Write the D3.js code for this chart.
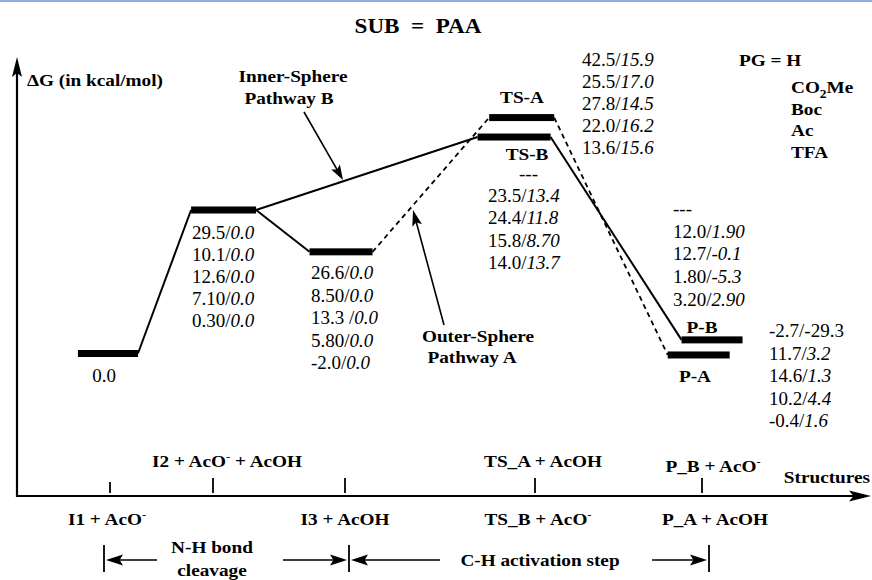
<!DOCTYPE html>
<html>
<head>
<meta charset="utf-8">
<title>Energy profile, SUB = PAA</title>
<style>
  html, body { margin: 0; padding: 0; background: #fff; }
  #svg { display: block; }
  text { font-family: "Liberation Serif", "Times New Roman", serif; white-space: pre; }
</style>
</head>
<body>
<svg id="svg" width="872" height="580"></svg>

<script src="https://d3js.org/d3.v7.min.js"></script>
<script>
// structures along the x axis
const stages = [0, 1, 2, 3, 4]
const stageTop = ['', 'I2 + AcO⁻ + AcOH', '', 'TS_A + AcOH', 'P_B + AcO⁻']
const stageBottom = ['I1 + AcO⁻', '', 'I3 + AcOH', 'TS_B + AcO⁻', 'P_A + AcOH']

// energy levels (schematic heights, not to scale)
const levelNames = ['I1', 'I2', 'I3', 'TS-A', 'TS-B', 'P-B', 'P-A']
const levelCoord = [-0.02, 1.08, 1.97, 2.93, 2.89, 4.06, 3.98]
const levelHeight = [0, 29.5, 20.9, 48.5, 44.5, 2.8, -0.3]

const solidPath = [['I1', 'I2'], ['I2', 'I3'], ['I2', 'TS-B'], ['TS-B', 'P-B']]
const dashedPath = [['I3', 'TS-A'], ['TS-A', 'P-A']]

// protecting groups and energies (gas / solvent)
const pgLabels = ['H', 'CO₂Me', 'Boc', 'Ac', 'TFA']
const energyI1 = ['0.0']
const energyI2 = [['29.5', '0.0'], ['10.1', '0.0'], ['12.6', '0.0'], ['7.10', '0.0'], ['0.30', '0.0']]
const energyI3 = [['26.6', '0.0'], ['8.50', '0.0'], ['13.3 ', '0.0'], ['5.80', '0.0'], ['-2.0', '0.0']]
const energyTSA = [['42.5', '15.9'], ['25.5', '17.0'], ['27.8', '14.5'], ['22.0', '16.2'], ['13.6', '15.6']]
const energyTSB = [null, ['23.5', '13.4'], ['24.4', '11.8'], ['15.8', '8.70'], ['14.0', '13.7']]
const energyPB = [null, ['12.0', '1.90'], ['12.7', '-0.1'], ['1.80', '-5.3'], ['3.20', '2.90']]
const energyPA = [['-2.7', '-29.3'], ['11.7', '3.2'], ['14.6', '1.3'], ['10.2', '4.4'], ['-0.4', '1.6']]

const svg = d3.select('#svg')
const xscale = d3.scaleLinear().domain(stages).range([110, 213, 345, 535, 702])
const yscale = d3.scaleLinear().domain([0, 29.5]).range([353.5, 210])
const halfW = [30, 32.5, 31.5, 32.5, 36.5, 30.5, 31]
const upright = new Set(['-29.3'])
const numSize = 19

const lvl = {}
levelNames.forEach((n, i) => {
  lvl[n] = { x: xscale(levelCoord[i]), y: yscale(levelHeight[i]), hw: halfW[i] }
})

// thin blue rule on top
svg.append('rect').attr('x', 0).attr('y', 0).attr('width', 872).attr('height', 2).attr('fill', '#8eaedb')

function rich(t, str, size) {
  let shift = 0
  str.split(/([⁻₂])/).forEach(p => {
    if (!p) return
    if (p === '⁻') {
      t.append('tspan').attr('dy', -7 - shift).attr('font-size', size * 0.65).text('-')
      shift = -7
    } else if (p === '₂') {
      t.append('tspan').attr('dy', 5 - shift).attr('font-size', size * 0.7).text('2')
      shift = 5
    } else {
      const s = t.append('tspan').text(p)
      if (shift) { s.attr('dy', -shift); shift = 0 }
    }
  })
}

function label(str, px, py, anchor = 'middle', size = 17.5) {
  const t = svg.append('text')
    .attr('transform', `translate(${px},${py}) scale(1.1,1)`)
    .attr('text-anchor', anchor)
    .attr('font-weight', 'bold')
    .attr('font-size', size)
  rich(t, str, size)
  return t
}

function block(rows, px, py, step, dashX) {
  rows.forEach((r, i) => {
    const t = svg.append('text').attr('x', px).attr('y', py + i * step).attr('font-size', numSize)
    if (!r) { t.attr('x', dashX).text('---'); return }
    t.append('tspan').text(r[0] + '/')
    t.append('tspan').attr('font-style', upright.has(r[1]) ? 'normal' : 'italic').text(r[1])
  })
}

function arrow(x1, y1, x2, y2, len, half, width) {
  const a = Math.atan2(y2 - y1, x2 - x1)
  const ux = Math.cos(a), uy = Math.sin(a)
  const bx = x2 - ux * len, by = y2 - uy * len
  svg.append('line')
    .attr('x1', x1).attr('y1', y1)
    .attr('x2', x2 - ux * len * 0.6).attr('y2', y2 - uy * len * 0.6)
    .attr('stroke', '#000').attr('stroke-width', width)
  const pts = [[x2, y2], [bx - uy * half, by + ux * half], [x2 - ux * len * 0.8, y2 - uy * len * 0.8], [bx + uy * half, by - ux * half]]
  svg.append('path').attr('d', d3.line()(pts) + 'Z').attr('fill', '#000')
}

// axes
arrow(17, 497, 17, 57, 20, 5, 2.2)
arrow(16, 496, 871, 496, 22, 5.5, 2.2)

svg.selectAll('.tick')
  .data(stages)
  .join('line')
  .attr('class', 'tick')
  .attr('x1', d => xscale(d)).attr('x2', d => xscale(d))
  .attr('y1', d => d === 0 ? 482 : 478).attr('y2', 493)
  .attr('stroke', '#000').attr('stroke-width', 1.8)

const topShift = [0, 14, 0, 8, 11]
const topBase = [0, 467, 0, 467, 472]
const bottomShift = [-3, 0, 0, 3, 13]
stages.forEach(s => {
  if (stageTop[s]) label(stageTop[s], xscale(s) + topShift[s], topBase[s])
  if (stageBottom[s]) label(stageBottom[s], xscale(s) + bottomShift[s], 525)
})
label('Structures', 870, 483, 'end')
label('ΔG (in kcal/mol)', 27, 86, 'start')
label('SUB  =  PAA', 418, 33, 'middle', 21)

// connecting lines
function connect(pairs, dashed) {
  svg.selectAll(null)
    .data(pairs)
    .join('line')
    .attr('x1', d => lvl[d[0]].x + lvl[d[0]].hw)
    .attr('y1', d => lvl[d[0]].y)
    .attr('x2', d => lvl[d[1]].x - lvl[d[1]].hw)
    .attr('y2', d => lvl[d[1]].y)
    .attr('stroke', '#000')
    .attr('stroke-width', dashed ? 1.8 : 2)
    .attr('stroke-dasharray', dashed ? '5,4' : null)
}
connect(solidPath, false)
connect(dashedPath, true)

// energy level bars
svg.selectAll('.bar')
  .data(levelNames)
  .join('rect')
  .attr('class', 'bar')
  .attr('x', d => lvl[d].x - lvl[d].hw)
  .attr('y', d => lvl[d].y - 3.5)
  .attr('width', d => lvl[d].hw * 2)
  .attr('height', 7)
  .attr('fill', '#000')

// level names
label('TS-A', 522, 103)
label('TS-B', 527, 160)
label('P-B', 702, 333)
label('P-A', 695, 382)

// pathway labels
label('Inner-Sphere', 293, 82)
label('Pathway B', 289, 104)
arrow(304, 112, 343, 180, 15, 5, 1.6)
label('Outer-Sphere', 478, 342)
label('Pathway A', 472, 363)
arrow(444, 325, 413, 210, 16, 5, 1.6)

// PG legend
label('PG = H', 739, 66, 'start')
pgLabels.slice(1).forEach((p, i) => label(p, 791, 93 + i * 21.7, 'start'))

// energies
svg.append('text').attr('x', 104).attr('y', 382).attr('font-size', numSize)
  .attr('text-anchor', 'middle').text(energyI1[0])
block(energyI2, 192, 239, 22, 192)
block(energyI3, 311, 279, 22.5, 311)
block(energyTSA, 582, 66, 22, 582)
block(energyTSB, 488, 179.5, 22.4, 519)
block(energyPB, 673, 215, 22.7, 673)
block(energyPA, 769, 337, 22.5, 769)

// step brackets
const ay = 560
function bar(px) {
  svg.append('line').attr('x1', px).attr('x2', px).attr('y1', 545).attr('y2', 572)
    .attr('stroke', '#000').attr('stroke-width', 1.8)
}
bar(104); bar(349); bar(709)
arrow(157, ay, 106, ay, 17, 5.5, 1.6)
arrow(283, ay, 347, ay, 17, 5.5, 1.6)
arrow(440, ay, 351, ay, 17, 5.5, 1.6)
arrow(652, ay, 707, ay, 17, 5.5, 1.6)
label('N-H bond', 212, 553)
label('cleavage', 212, 576)
label('C-H activation step', 540, 566)
</script>
</body>
</html>
